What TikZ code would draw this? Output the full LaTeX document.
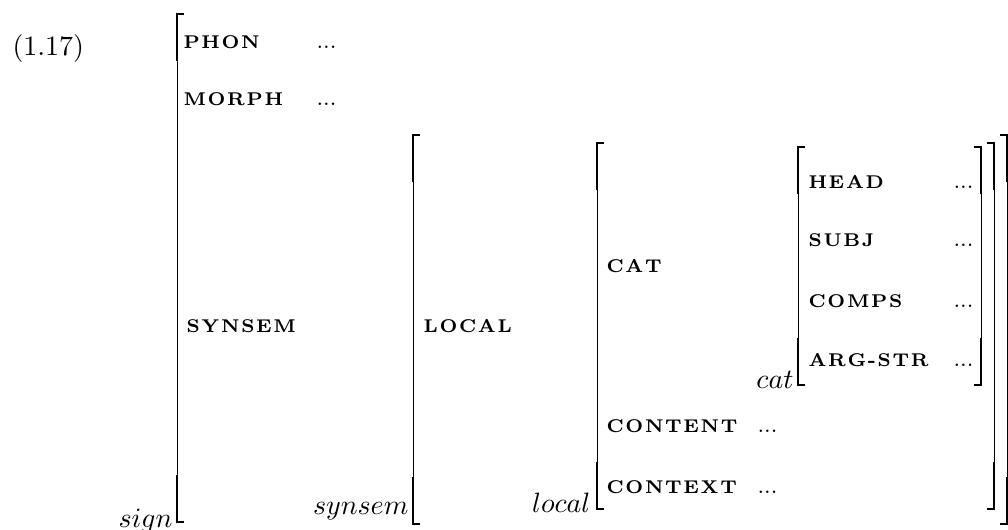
\documentclass[tikz,border=0pt]{standalone}
\usepackage{fontspec}
\newcommand\avmspaced[1]{\ifx#1\relax\else#1\kern0.6pt\expandafter\avmspaced\fi}
\newcommand\attr[1]{\avmspaced#1\relax}
\newcommand\attrfont{\fontsize{6.6pt}{8pt}\selectfont\bfseries}
\newcommand\avmleft[3]{%
  \draw[brkthin] (#1,#2+46) -- (#1,#3-46);
  \draw[brkthick] (#1+7,#2) -- (#1,#2) -- (#1,#2+47);
  \draw[brkthick] (#1+7,#3) -- (#1,#3) -- (#1,#3-47);}
\newcommand\avmright[3]{%
  \draw[brkthin] (#1,#2+46) -- (#1,#3-46);
  \draw[brkthick] (#1-7,#2) -- (#1,#2) -- (#1,#2+47);
  \draw[brkthick] (#1-7,#3) -- (#1,#3) -- (#1,#3-47);}
\begin{document}
\begin{tikzpicture}[x=0.35714pt,y=-0.35714pt,
  attr/.style={anchor=base west, inner sep=0pt, font=\attrfont},
  val/.style={anchor=base west, inner sep=0pt, font=\fontsize{8pt}{9pt}\selectfont},
  typ/.style={anchor=base east, inner sep=0pt},
  brkthin/.style={line width=0.33pt},
  brkthick/.style={line width=0.6pt}]
\useasboundingbox (0,0) rectangle (1008,529);

\node[anchor=base west, inner sep=0pt] (num) at (12,55) {(1.17)};

% sign matrix
\avmleft{177}{14}{522}
\node[typ] (tsign) at (173,527) {$sign$};
\node[attr] (phon) at (183,48) {\attr{PHON}};
\node[val] (vphon) at (316,48) {...};
\node[attr] (morph) at (183,105) {\attr{MORPH}};
\node[val] (vmorph) at (316,105) {...};
\node[attr] (synsem) at (186,332) {\attr{SYNSEM}};

% synsem matrix
\avmleft{413}{135}{524}
\avmright{1007}{135}{524}
\node[typ] (tsynsem) at (409,514) {$synsem$};
\node[attr] (local) at (423,332) {\attr{LOCAL}};

% local matrix
\avmleft{597}{143}{509}
\avmright{994}{143}{509}
\node[typ] (tlocal) at (591,512) {$local$};
\node[attr] (cat) at (606,272) {\attr{CAT}};
\node[attr] (content) at (606,432) {\attr{CONTENT}};
\node[val] (vcontent) at (757,432) {...};
\node[attr] (context) at (606,493) {\attr{CONTEXT}};
\node[val] (vcontext) at (757,493) {...};

% cat matrix
\avmleft{798}{147}{385}
\avmright{981}{147}{385}
\node[typ] (tcat) at (794,388) {$cat$};
\node[attr] (head) at (808,188) {\attr{HEAD}};
\node[val] (vhead) at (953,188) {...};
\node[attr] (subj) at (808,246) {\attr{SUBJ}};
\node[val] (vsubj) at (953,246) {...};
\node[attr] (comps) at (808,307) {\attr{COMPS}};
\node[val] (vcomps) at (953,307) {...};
\node[attr] (argstr) at (808,366) {\attr{ARG-STR}};
\node[val] (vargstr) at (953,366) {...};
\end{tikzpicture}
\end{document}
